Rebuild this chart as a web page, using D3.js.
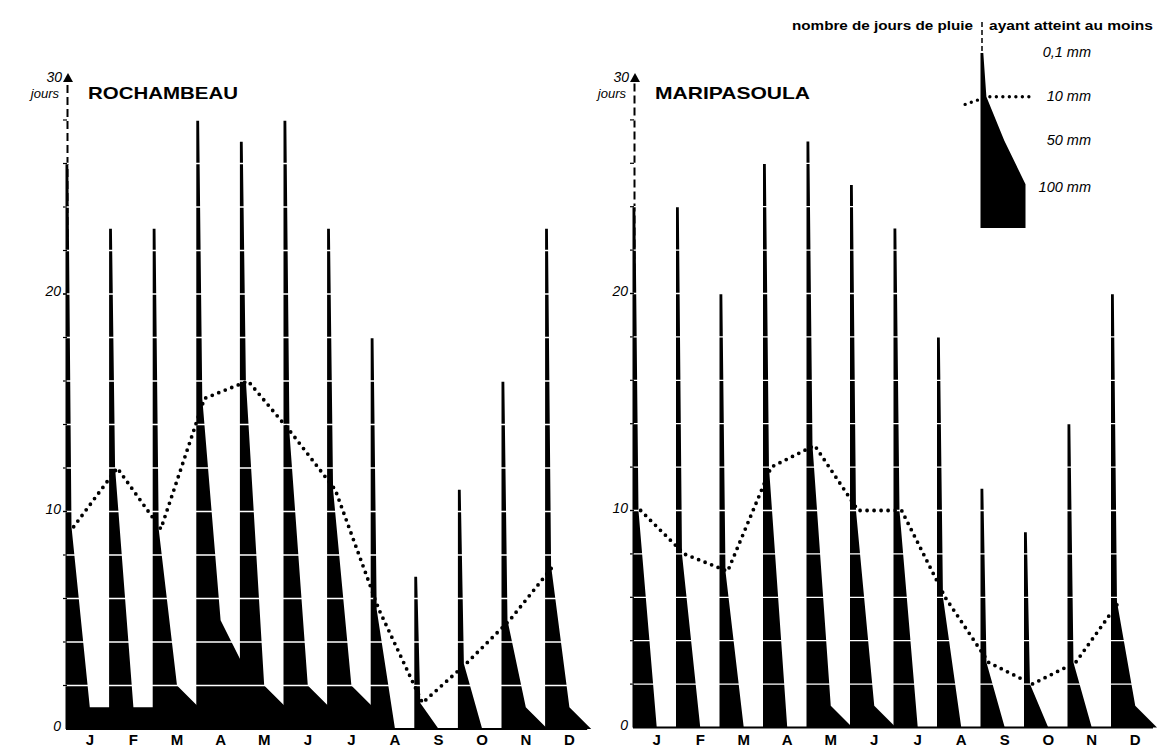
<!DOCTYPE html>
<html>
<head>
<meta charset="utf-8">
<script src="https://cdn.jsdelivr.net/npm/d3@7"></script>
<style>
body { margin: 0; background: #fff; overflow: hidden; }
text { font-family: "Liberation Sans", Arial, sans-serif; fill: #000; }
</style>
</head>
<body>
<div id="graph"></div>
<script>
const months = ["J", "F", "M", "A", "M", "J", "J", "A", "S", "O", "N", "D"];
const yTickLabels = [0, 10, 20];
const gridDays = d3.range(2, 30, 2);

// Rochambeau : nombre de jours avec au moins 0,1 / 10 / 50 / 100 mm
const rochDays01 = [26, 23, 23, 28, 27, 28, 23, 18, 7, 11, 16, 23];
const rochDays10 = [9.3, 12, 9.2, 15.2, 16, 13.6, 11, 5.5, 1.2, 3, 5, 7.5];
const rochDays50 = [1, 1, 2, 5, 2, 2, 2, 0, 0, 0, 1, 1];
const rochDays100 = [1, 1, 1, 3, 1, 1, 1, 0, 0, 0, 0, 0];

// Maripasoula
const mariDays01 = [24, 24, 20, 26, 27, 25, 23, 18, 11, 9, 14, 20];
const mariDays10 = [10, 8, 7.2, 12, 13, 10, 10, 6, 3, 2, 3, 5.8];
const mariDays50 = [0, 0, 0, 0, 1, 1, 0, 0, 0, 0, 0, 1];
const mariDays100 = [0, 0, 0, 0, 0, 0, 0, 0, 0, 0, 0, 0];

// legende
const legendDays = [8, 6, 4, 2];
const legendLabels = ["0,1 mm", "10 mm", "50 mm", "100 mm"];

const width = 1163, height = 749;
const svg = d3.select("#graph").append("svg")
    .attr("width", width)
    .attr("height", height);

function shapePoints(x, y, i, d01, d10, d50, d100) {
    return [
        [x(i) - 2.5, y(0)],
        [x(i) - 2.5, y(d01)],
        [x(i) + 0.3, y(d01)],
        [x(i + 0.08), y(d10)],
        [x(i + 0.5), y(d50)],
        [x(i + 1), y(d100)],
        [x(i + 1), y(0)]
    ];
}

function drawPanel(name, d01, d10, d50, d100, left, step, zeroY, unit, titleLen) {
    const x = d3.scaleLinear().domain([0, 12]).range([left, left + 12 * step]);
    const y = d3.scaleLinear().domain([0, 30]).range([zeroY, zeroY - 30 * unit]);
    const g = svg.append("g");

    // axe vertical en tirets + fleche
    g.append("line")
        .attr("x1", x(0) - 0.5).attr("x2", x(0) - 0.5)
        .attr("y1", y(0)).attr("y2", y(30) + 4)
        .attr("stroke", "#000").attr("stroke-width", 2)
        .attr("stroke-dasharray", "8,4");
    g.append("path")
        .attr("d", `M${x(0) - 5},${y(30) + 5.5} L${x(0)},${y(30) - 3.5} L${x(0) + 5},${y(30) + 5.5} Z`)
        .attr("fill", "#000");

    // formes mensuelles
    g.selectAll("path.month")
        .data(months)
        .join("path")
        .attr("class", "month")
        .attr("d", (m, i) => d3.line()(shapePoints(x, y, i, d01[i], d10[i], d50[i], d100[i])) + "Z")
        .attr("fill", "#000");

    // lignes blanches tous les 2 jours
    g.selectAll("line.grid")
        .data(gridDays)
        .join("line")
        .attr("class", "grid")
        .attr("x1", x(0) - 3).attr("x2", x(12))
        .attr("y1", d => y(d)).attr("y2", d => y(d))
        .attr("stroke", "#fff").attr("stroke-width", 1.3);

    // graduations
    g.selectAll("line.tick")
        .data(gridDays.concat([10, 20]))
        .join("line")
        .attr("class", "tick")
        .attr("x1", x(0) - 5).attr("x2", x(0) - 1)
        .attr("y1", d => y(d)).attr("y2", d => y(d))
        .attr("stroke", "#000").attr("stroke-width", 1.2);

    g.selectAll("text.ylab")
        .data(yTickLabels)
        .join("text")
        .attr("class", "ylab")
        .attr("x", x(0) - 7)
        .attr("y", d => y(d) + 2)
        .attr("text-anchor", "end")
        .style("font-size", "14px")
        .style("font-style", "italic")
        .text(d => d);

    g.append("text")
        .attr("x", x(0) - 6).attr("y", y(30) + 5.5)
        .attr("text-anchor", "end")
        .style("font-size", "14px").style("font-style", "italic")
        .text("30");
    g.append("text")
        .attr("x", x(0) - 9).attr("y", y(30) + 21)
        .attr("text-anchor", "end")
        .style("font-size", "13px").style("font-style", "italic")
        .text("jours");

    // ligne de base
    g.append("line")
        .attr("x1", x(0) - 2).attr("x2", x(12) - 4)
        .attr("y1", y(0)).attr("y2", y(0))
        .attr("stroke", "#000").attr("stroke-width", 2);

    // pointilles des jours >= 10 mm
    g.append("path")
        .attr("d", d3.line()(d10.map((v, i) => [x(i + 0.13), y(v)])))
        .attr("fill", "none")
        .attr("stroke", "#000").attr("stroke-width", 3.8)
        .attr("stroke-linecap", "round")
        .attr("stroke-dasharray", "0,7");

    // mois
    g.selectAll("text.month")
        .data(months)
        .join("text")
        .attr("class", "month")
        .attr("x", (m, i) => x(i + 0.5))
        .attr("y", 745)
        .attr("text-anchor", "middle")
        .style("font-size", "15px").style("font-weight", "bold")
        .text(m => m);

    g.append("text")
        .attr("x", x(0) + 20).attr("y", y(30) + 22.5)
        .attr("textLength", titleLen).attr("lengthAdjust", "spacingAndGlyphs")
        .style("font-size", "17px").style("font-weight", "bold")
        .text(name);
}

drawPanel("ROCHAMBEAU", rochDays01, rochDays10, rochDays50, rochDays100, 68, 43.6, 729, 21.75, 150);
drawPanel("MARIPASOULA", mariDays01, mariDays10, mariDays50, mariDays100, 635, 43.5, 727.5, 21.7, 155);

// legende
const lx = d3.scaleLinear().domain([0, 1]).range([983, 1025.5]);
const ly = d3.scaleLinear().domain([0, 8]).range([228, 53]);
const lg = svg.append("g");

lg.append("text")
    .attr("x", 792).attr("y", 30)
    .attr("textLength", 181).attr("lengthAdjust", "spacingAndGlyphs")
    .style("font-size", "12.5px").style("font-weight", "bold")
    .text("nombre de jours de pluie");
lg.append("text")
    .attr("x", 989).attr("y", 30)
    .attr("textLength", 164).attr("lengthAdjust", "spacingAndGlyphs")
    .style("font-size", "12.5px").style("font-weight", "bold")
    .text("ayant atteint au moins");

lg.append("line")
    .attr("x1", lx(0) - 1).attr("x2", lx(0) - 1)
    .attr("y1", 22).attr("y2", ly(legendDays[0]))
    .attr("stroke", "#000").attr("stroke-width", 1.5)
    .attr("stroke-dasharray", "5,3");

lg.append("path")
    .attr("d", d3.line()(shapePoints(lx, ly, 0, legendDays[0], legendDays[1], legendDays[2], legendDays[3])) + "Z")
    .attr("fill", "#000");

lg.append("path")
    .attr("d", d3.line()([[lx(-0.42), ly(5.65)], [lx(0.1), ly(legendDays[1])], [lx(1.1), ly(legendDays[1])]]))
    .attr("fill", "none")
    .attr("stroke", "#000").attr("stroke-width", 3.4)
    .attr("stroke-linecap", "round")
    .attr("stroke-dasharray", "0,6.5");

lg.selectAll("text.lab")
    .data(legendLabels)
    .join("text")
    .attr("class", "lab")
    .attr("x", 1091)
    .attr("y", (d, i) => ly(legendDays[i]) + 4 + (i === 3 ? 4 : 0))
    .attr("text-anchor", "end")
    .style("font-size", "14.5px").style("font-style", "italic")
    .text(d => d);
</script>
</body>
</html>
